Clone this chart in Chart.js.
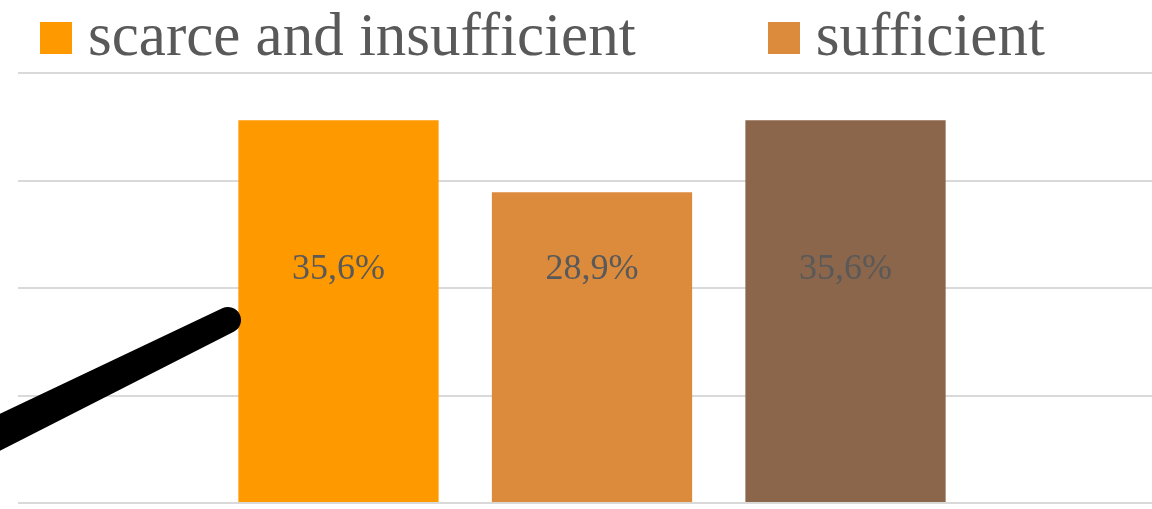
<!DOCTYPE html>
<html>
<head>
<meta charset="utf-8">
<script src="https://cdn.jsdelivr.net/npm/chart.js@4/dist/chart.umd.min.js"></script>
<style>
  html, body { margin: 0; padding: 0; background: #fff; overflow: hidden; }
  #wrap { position: relative; width: 1152px; height: 509px; overflow: hidden; }
  #chart { position: absolute; left: 0; top: 0; }
  #legend {
    position: absolute; left: 40px; top: 5px;
    display: flex; align-items: center;
    font-family: "Liberation Serif", serif; font-size: 61px; line-height: 60px;
    color: #595959; white-space: nowrap;
  }
  #legend .item { display: flex; align-items: center; margin-right: 132px; }
  #legend .box { width: 32px; height: 32px; margin-right: 16px; margin-top: 6px; }
</style>
</head>
<body>
<div id="wrap">
  <canvas id="chart" width="1166" height="509"></canvas>
  <div id="legend"></div>
</div>
<script>
// --- datos del gráfico ---
const categories = [''];
const seriesLabels = ['scarce and insufficient', 'sufficient', 'good'];
const seriesValues = [35.6, 28.9, 35.6];
const seriesColors = ['#FF9900', '#DB8B3B', '#8B664B'];
const yTicks = [0, 10, 20, 30, 40];

// solo se ven las dos primeras entradas de la leyenda (la tercera queda recortada)
const legendVisible = 2;

(function() {
  // leyenda en HTML
  const legend = document.getElementById('legend');
  seriesLabels.slice(0, legendVisible).forEach((label, i) => {
    const item = document.createElement('div');
    item.className = 'item';
    item.innerHTML = `<span class="box" style="background:${seriesColors[i]}"></span><span>${label}</span>`;
    legend.appendChild(item);
  });

  // etiquetas de valor dentro de las barras
  const valueLabels = {
    id: 'valueLabels',
    afterDatasetsDraw(chart) {
      const ctx = chart.ctx;
      const y = chart.scales.y.getPixelForValue(21.7);
      ctx.save();
      ctx.font = '36px "Liberation Serif", serif';
      ctx.fillStyle = '#595959';
      ctx.textAlign = 'center';
      ctx.textBaseline = 'middle';
      chart.data.datasets.forEach((ds, i) => {
        const bar = chart.getDatasetMeta(i).data[0];
        const txt = ds.data[0].toFixed(1).replace('.', ',') + '%';
        ctx.fillText(txt, bar.x, y);
      });
      ctx.restore();
    }
  };

  // trazo negro de rotulador que aparece en la imagen original
  const penStroke = {
    id: 'penStroke',
    afterDraw(chart) {
      const ctx = chart.ctx;
      const ax = -27, ay = 445.5, bx = 228, by = 320;
      const len = Math.hypot(bx - ax, by - ay);
      const ux = (bx - ax) / len, uy = (by - ay) / len;
      const nx = -uy, ny = ux;
      const wa = 17, wb = 13;
      ctx.save();
      ctx.fillStyle = '#000';
      ctx.beginPath();
      ctx.moveTo(ax + nx * wa, ay + ny * wa);
      ctx.lineTo(bx + nx * wb, by + ny * wb);
      const ang = Math.atan2(ny, nx);
      ctx.arc(bx, by, wb, ang, ang - Math.PI, true);
      ctx.lineTo(ax - nx * wa, ay - ny * wa);
      ctx.closePath();
      ctx.fill();
      ctx.restore();
    }
  };

  const ctx = document.getElementById('chart').getContext('2d');
  new Chart(ctx, {
    type: 'bar',
    data: {
      labels: categories,
      datasets: seriesLabels.map((label, i) => ({
        label: label,
        data: [seriesValues[i]],
        backgroundColor: seriesColors[i],
        categoryPercentage: 0.6625,
        barPercentage: 0.79
      }))
    },
    options: {
      responsive: false,
      animation: false,
      layout: { padding: { left: 18, right: 0, top: 73, bottom: 6 } },
      plugins: { legend: { display: false }, tooltip: { enabled: false } },
      scales: {
        x: { display: false },
        y: {
          min: yTicks[0],
          max: yTicks[yTicks.length - 1],
          afterBuildTicks: (axis) => { axis.ticks = yTicks.map(v => ({ value: v })); },
          ticks: { display: false },
          border: { display: false },
          grid: { color: '#D9D9D9', lineWidth: 2, drawTicks: false }
        }
      }
    },
    plugins: [valueLabels, penStroke]
  });
})();
</script>
</body>
</html>
